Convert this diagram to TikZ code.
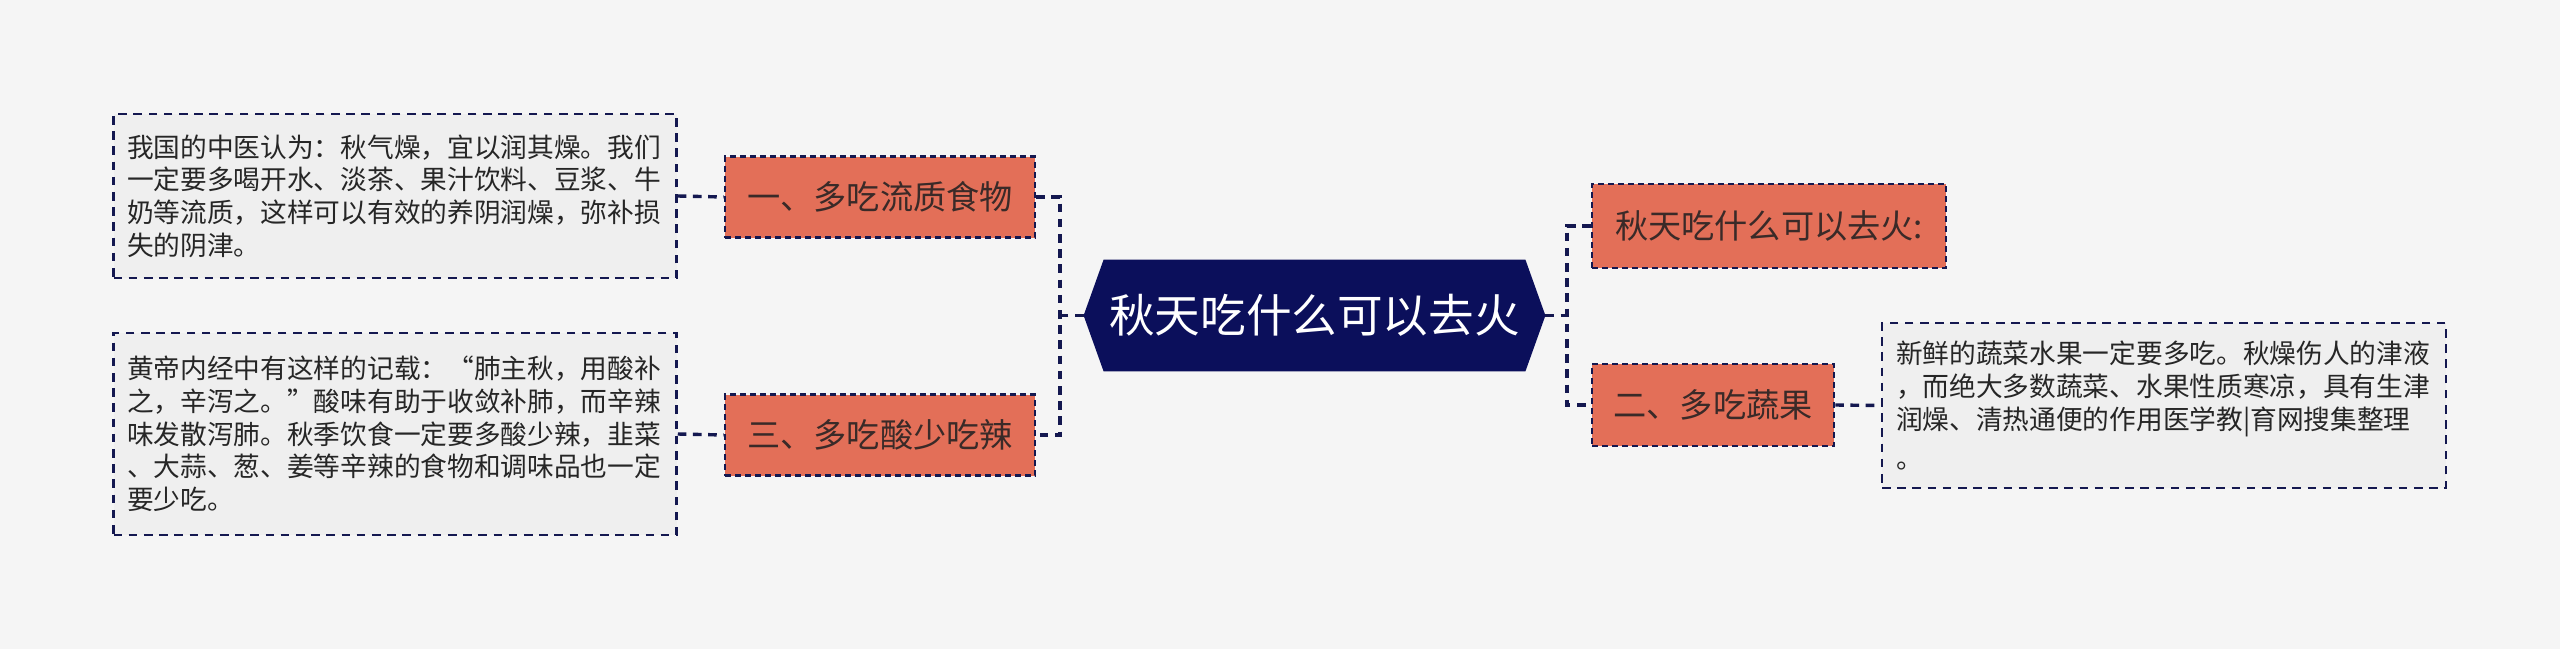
\documentclass[tikz,border=0pt]{standalone}
\usepackage{fontspec}
\setmainfont{Noto Sans CJK SC}
\definecolor{bgc}{HTML}{F5F5F5}
\definecolor{navy}{HTML}{0B0F5B}
\definecolor{lnavy}{HTML}{141850}
\definecolor{salmon}{HTML}{E36F58}
\definecolor{boxfill}{HTML}{EFEFEF}
\definecolor{dtext}{HTML}{3A2A28}
\definecolor{btext}{HTML}{262626}
\tikzset{
  conn/.style={draw=lnavy, line width=1.7pt, dash pattern=on 4.3pt off 3.3pt},
  topic/.style={fill=salmon, draw=lnavy, line width=1.25pt, dash pattern=on 3pt off 2pt,
    text=dtext, font=\fontsize{16.6pt}{20pt}\selectfont, inner sep=0pt, minimum height=40.5pt},
  note/.style={fill=boxfill, draw=lnavy, line width=1.25pt, dash pattern=on 4.3pt off 3.3pt,
    text=btext, font=\fontsize{13.35pt}{16.35pt}\selectfont, align=left,
    text width=268pt, inner sep=0pt, minimum width=281.5pt},
}
\begin{document}
\begin{tikzpicture}[x=0.5pt,y=-0.5pt]
\fill[bgc] (0,0) rectangle (2560,649);
\useasboundingbox (0,0) rectangle (2560,649);

% central node
\node[minimum width=230.5pt, minimum height=55.5pt, inner sep=0pt] (c) at (1314.5,315.5) {};
\fill[navy] ([xshift=10pt]c.north west) -- ([xshift=-10pt]c.north east) -- (c.east)
  -- ([xshift=-10pt]c.south east) -- ([xshift=10pt]c.south west) -- (c.west) -- cycle;
\node[text=white, font=\fontsize{22.8pt}{26pt}\selectfont] (ct) at (c.center) {秋天吃什么可以去火};

% topics
\node[topic, minimum width=155pt] (n1) at (880,197) {一、多吃流质食物};
\node[topic, minimum width=155pt] (n3) at (880,435) {三、多吃酸少吃辣};
\node[topic, minimum width=177pt, minimum height=42pt] (r1) at (1769,226) {秋天吃什么可以去火:};
\node[topic, minimum width=121pt, minimum height=41pt] (r2) at (1713,405) {二、多吃蔬果};

% notes
\node[note, minimum height=82pt] (b1) at (395,196) {我国的中医认为：秋气燥，宜以润其燥。我们\\一定要多喝开水、淡茶、果汁饮料、豆浆、牛\\奶等流质，这样可以有效的养阴润燥，弥补损\\失的阴津。};
\node[note, minimum height=101pt] (b3) at (395,434) {黄帝内经中有这样的记载：“肺主秋，用酸补\\之，辛泻之。”酸味有助于收敛补肺，而辛辣\\味发散泻肺。秋季饮食一定要多酸少辣，韭菜\\、大蒜、葱、姜等辛辣的食物和调味品也一定\\要少吃。};
\node[note, minimum height=82.5pt, minimum width=282pt] (b2) at (2164,405.5) {新鲜的蔬菜水果一定要多吃。秋燥伤人的津液\\，而绝大多数蔬菜、水果性质寒凉，具有生津\\润燥、清热通便的作用医学教|育网搜集整理\\[3pt]。};

% connectors
\coordinate (jl) at (1060,315.5);
\coordinate (jr) at (1567,315.5);
\draw[conn] (c.west) -- (jl);
\draw[conn] (n1.east) -| (jl) |- (n3.east);
\draw[conn] (c.east) -- (jr);
\draw[conn] (r1.west) -| (jr) |- (r2.west);
\draw[conn] (b1.east) -- (n1.west);
\draw[conn] (b3.east) -- (n3.west);
\draw[conn] (r2.east) -- (b2.west);
\end{tikzpicture}
\end{document}
